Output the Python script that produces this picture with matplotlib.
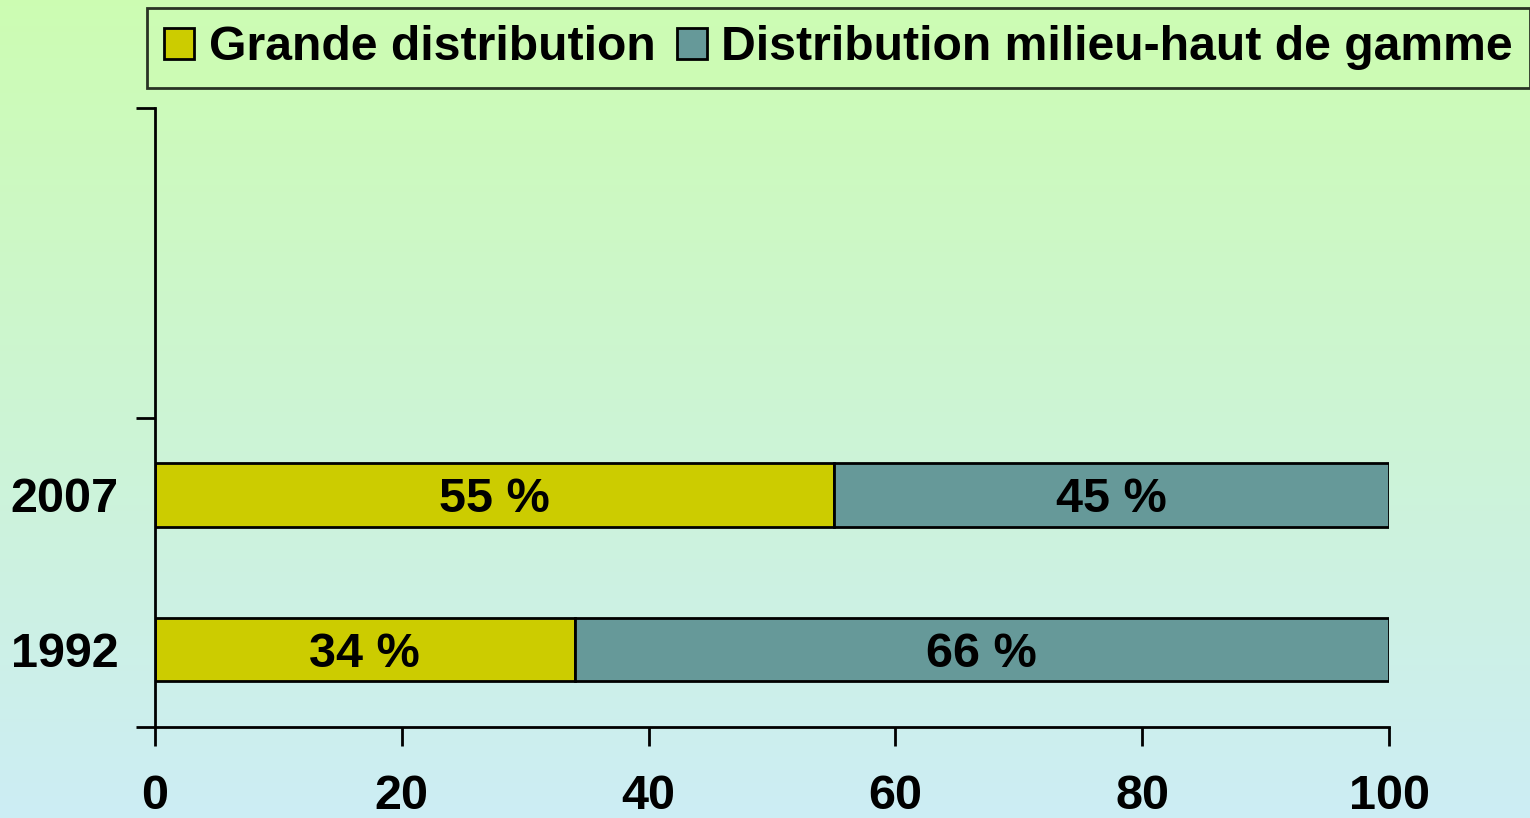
import numpy as np
import matplotlib.pyplot as plt
from matplotlib.patches import Patch

years = ['1992', '2007']
grande = [34, 55]
milieu = [66, 45]
series_names = ['Grande distribution', 'Distribution milieu-haut de gamme']
xticks = [0, 20, 40, 60, 80, 100]

plt.rcParams['font.family'] = ['Liberation Sans', 'DejaVu Sans']
plt.rcParams['font.weight'] = 'bold'
FS = 35

fig = plt.figure(figsize=(15.3, 8.18), dpi=100)

# gradient background
bg = fig.add_axes([0, 0, 1, 1], zorder=-10)
top = np.array([0.80, 0.99, 0.70])
bot = np.array([0.80, 0.93, 0.96])
t = np.linspace(0, 1, 256)[:, None]
grad = top + (bot - top) * t
bg.imshow(grad[:, None, :].repeat(2, axis=1), aspect='auto', extent=[0, 1, 0, 1])
bg.axis('off')

W, H = 1530, 818
ax = fig.add_axes([155 / W, 1 - 727 / H, (1389 - 155) / W, (727 - 108) / H])
ax.patch.set_alpha(0)

y = np.arange(len(years))
h = 0.41
c1, c2 = '#CCCC00', '#669999'
ax.barh(y, grande, height=h, color=c1, edgecolor='black', linewidth=2)
ax.barh(y, milieu, left=grande, height=h, color=c2, edgecolor='black', linewidth=2)

for i in range(len(years)):
    ax.text(grande[i] / 2, y[i], f'{grande[i]} %', ha='center', va='center_baseline',
            fontsize=FS, fontweight='bold')
    ax.text(grande[i] + milieu[i] / 2, y[i], f'{milieu[i]} %', ha='center',
            va='center_baseline', fontsize=FS, fontweight='bold')

ax.set_xlim(0, 100)
ax.set_ylim(-0.5, 3.5)
ax.set_xticks(xticks)
ax.set_xticklabels([str(v) for v in xticks], fontsize=FS, fontweight='bold')
ax.set_yticks([-0.5, 1.5, 3.5])
ax.set_yticklabels([])
ax.set_yticks(y, minor=True)
ax.set_yticklabels(years, minor=True, fontsize=FS, fontweight='bold')
ax.tick_params(axis='y', which='minor', length=0, pad=26)
ax.tick_params(axis='y', which='major', length=14, width=2, direction='out')
ax.tick_params(axis='x', length=14, width=2, direction='out', pad=20)
ax.spines['top'].set_visible(False)
ax.spines['right'].set_visible(False)
ax.spines['left'].set_linewidth(2)
ax.spines['bottom'].set_linewidth(2)

handles = [Patch(facecolor=c1, edgecolor='black', linewidth=2),
           Patch(facecolor=c2, edgecolor='black', linewidth=2)]
leg = fig.legend(handles, series_names, loc='upper left',
                 bbox_to_anchor=(147 / W, 1 - 8 / H), ncol=2,
                 prop={'size': 34.7, 'weight': 'bold'}, frameon=True, fancybox=False,
                 handlelength=0.62, handleheight=0.62, handletextpad=0.3,
                 columnspacing=0.45, borderpad=0.36, borderaxespad=0)
leg.get_frame().set_facecolor('#CCFCB4')
leg.get_frame().set_edgecolor('black')
leg.get_frame().set_linewidth(2)

fig.savefig('out.png', dpi=100)
